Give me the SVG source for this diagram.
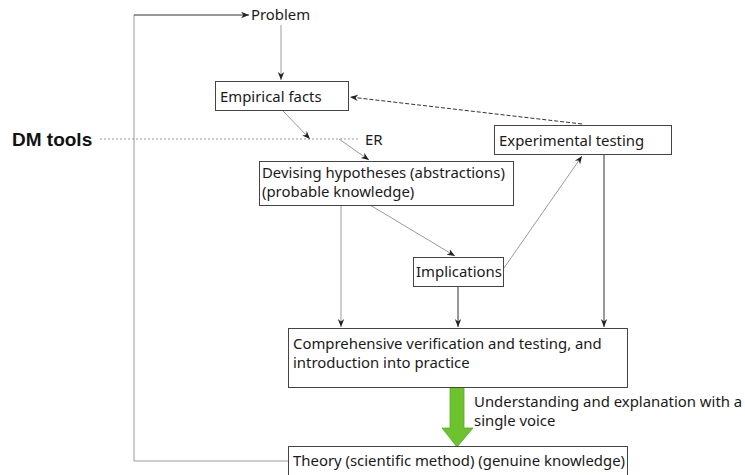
<svg xmlns="http://www.w3.org/2000/svg" width="745" height="475" viewBox="0 0 745 475">
<defs>
<style>
.box{fill:#fff;stroke:#444;stroke-width:1}
.t{font-family:"Noto Sans","Liberation Sans",sans-serif;font-size:14.9px;fill:#1a1a1a}
.g{fill:none;stroke:#9a9a9a;stroke-width:1}
.k{fill:none;stroke:#333;stroke-width:1}
</style>
<marker id="ah" viewBox="0 0 10 10" refX="10" refY="5" markerWidth="8" markerHeight="8" orient="auto" markerUnits="userSpaceOnUse">
<path d="M0,1 L10,5 L0,9 L3,5 z" fill="#222"/>
</marker>
</defs>
<rect width="745" height="475" fill="#fff"/>
<g id="connectors">
<polyline class="g" points="289,461 134,461 134,15" stroke="#c8c8c8" stroke-width="2"/>
<line class="k" x1="134" y1="15" x2="249" y2="15" stroke="#111" stroke-width="1.5" marker-end="url(#ah)"/>
<line class="g" x1="281" y1="25" x2="281" y2="80" marker-end="url(#ah)"/>
<line class="k" x1="582" y1="124" x2="350" y2="97" stroke-dasharray="4,2" marker-end="url(#ah)"/>
<line x1="100" y1="139" x2="360" y2="139" stroke="#999" stroke-width="1" stroke-dasharray="2,2"/>
<line class="g" x1="282" y1="110" x2="310" y2="139" marker-end="url(#ah)"/>
<line class="g" x1="339" y1="139" x2="369" y2="160" marker-end="url(#ah)"/>
<line class="g" x1="370" y1="205" x2="455" y2="256" marker-end="url(#ah)"/>
<line class="g" x1="504" y1="268" x2="582" y2="156" marker-end="url(#ah)"/>
<line class="g" x1="341" y1="205" x2="341" y2="327" marker-end="url(#ah)"/>
<line class="k" x1="458" y1="286" x2="458" y2="327" stroke="#666" marker-end="url(#ah)"/>
<line class="k" x1="604" y1="154" x2="604" y2="327" marker-end="url(#ah)"/>
<path d="M450,387 L464,387 L464,428 L473,428 L457,447 L442,428 L450,428 z" fill="#6cc32e" stroke="#5aa826" stroke-width="0.8"/>
</g>
<g id="problem"><text class="t" x="251" y="20">Problem</text></g>
<g id="empirical-facts"><rect class="box" x="215.5" y="81.5" width="133" height="29"/><text class="t" x="220" y="102">Empirical facts</text></g>
<g id="dm-tools"><text x="12" y="146" font-family="'Liberation Sans',sans-serif" font-weight="bold" font-size="19" fill="#111">DM tools</text></g>
<g id="er"><text class="t" x="365" y="145">ER</text></g>
<g id="experimental-testing"><rect class="box" x="494.5" y="125.5" width="177" height="29"/><text class="t" x="499" y="146">Experimental testing</text></g>
<g id="devising-hypotheses"><rect class="box" x="259.5" y="161.5" width="254" height="44" stroke="#777"/><text class="t" x="262" y="178">Devising hypotheses (abstractions)</text><text class="t" x="262" y="197">(probable knowledge)</text></g>
<g id="implications"><rect class="box" x="413.5" y="257.5" width="90" height="29" stroke="#777"/><text class="t" x="416" y="277">Implications</text></g>
<g id="comprehensive"><rect class="box" x="288.5" y="328.5" width="339" height="59"/><text class="t" x="293" y="349">Comprehensive verification and testing, and</text><text class="t" x="293" y="368">introduction into practice</text></g>
<g id="understanding"><text class="t" x="474" y="407">Understanding and explanation with a</text><text class="t" x="474" y="426">single voice</text></g>
<g id="theory"><rect class="box" x="288.5" y="446.5" width="339" height="40" stroke="#222"/><text class="t" x="293" y="466">Theory (scientific method) (genuine knowledge)</text></g>
</svg>
